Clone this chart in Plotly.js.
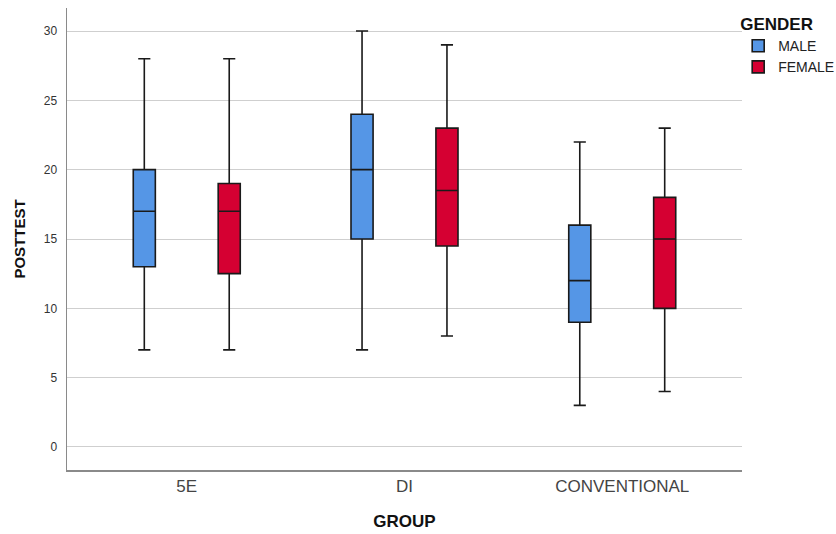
<!DOCTYPE html>
<html>
<head>
<meta charset="utf-8">
<script src="https://cdn.plot.ly/plotly-3.0.1.min.js"></script>
<style>html,body{margin:0;padding:0;background:#fff;}#chart{width:836px;height:534px;}</style>
</head>
<body>
<div id="chart"></div>
<script>
var groups = ["5E", "DI", "CONVENTIONAL"];

var maleMin    = [7, 7, 3];
var maleQ1     = [13, 15, 9];
var maleMedian = [17, 20, 12];
var maleQ3     = [20, 24, 16];
var maleMax    = [28, 30, 22];

var femaleMin    = [7, 8, 4];
var femaleQ1     = [12.5, 14.5, 10];
var femaleMedian = [17, 18.5, 15];
var femaleQ3     = [19, 23, 18];
var femaleMax    = [28, 29, 23];

var yTicks = [0, 5, 10, 15, 20, 25, 30];

function boxTrace(name, color, lo, q1, med, q3, hi) {
  return {
    type: "box",
    name: name,
    x: groups,
    lowerfence: lo,
    q1: q1,
    median: med,
    q3: q3,
    upperfence: hi,
    fillcolor: color,
    line: {color: "#1a1a1a", width: 1.6},
    whiskerwidth: 0.55,
    boxpoints: false,
    hoverinfo: "none"
  };
}

var data = [
  boxTrace("MALE", "#5596e6", maleMin, maleQ1, maleMedian, maleQ3, maleMax),
  boxTrace("FEMALE", "#d50032", femaleMin, femaleQ1, femaleMedian, femaleQ3, femaleMax)
];

var layout = {
  width: 836,
  height: 534,
  margin: {l: 67, r: 94, t: 8, b: 64, autoexpand: false},
  paper_bgcolor: "#ffffff",
  plot_bgcolor: "#ffffff",
  font: {family: "Liberation Sans, Arial, sans-serif", color: "#222"},
  boxmode: "group",
  boxgap: 0.22,
  boxgroupgap: 0.74,
  xaxis: {
    type: "category",
    range: [-0.55, 2.55],
    showline: true,
    linecolor: "#8a8a8a",
    linewidth: 1.5,
    showgrid: false,
    zeroline: false,
    ticks: "",
    tickfont: {size: 17, color: "#444"},
    title: {text: "GROUP", font: {size: 17, color: "#111", weight: "bold"}, standoff: 20}
  },
  yaxis: {
    range: [-1.66, 31.66],
    tickvals: yTicks,
    ticktext: yTicks.map(String),
    showline: true,
    linecolor: "#8a8a8a",
    linewidth: 1.5,
    showgrid: true,
    gridcolor: "#cfcfcf",
    gridwidth: 1,
    zeroline: false,
    ticks: "",
    ticklabelstandoff: 6,
    tickfont: {size: 12, color: "#333"},
    title: {text: "POSTTEST", font: {size: 15, color: "#111", weight: "bold"}, standoff: 14}
  },
  showlegend: true,
  legend: {
    xref: "container",
    x: 0.883,
    xanchor: "left",
    y: 1.0,
    yanchor: "top",
    bgcolor: "rgba(0,0,0,0)",
    font: {size: 14, color: "#222"},
    tracegroupgap: 0,
    itemwidth: 30,
    title: {text: "GENDER", font: {size: 17, color: "#111", weight: "bold"}}
  }
};

Plotly.newPlot("chart", data, layout, {displayModeBar: false, staticPlot: true});
</script>
</body>
</html>
